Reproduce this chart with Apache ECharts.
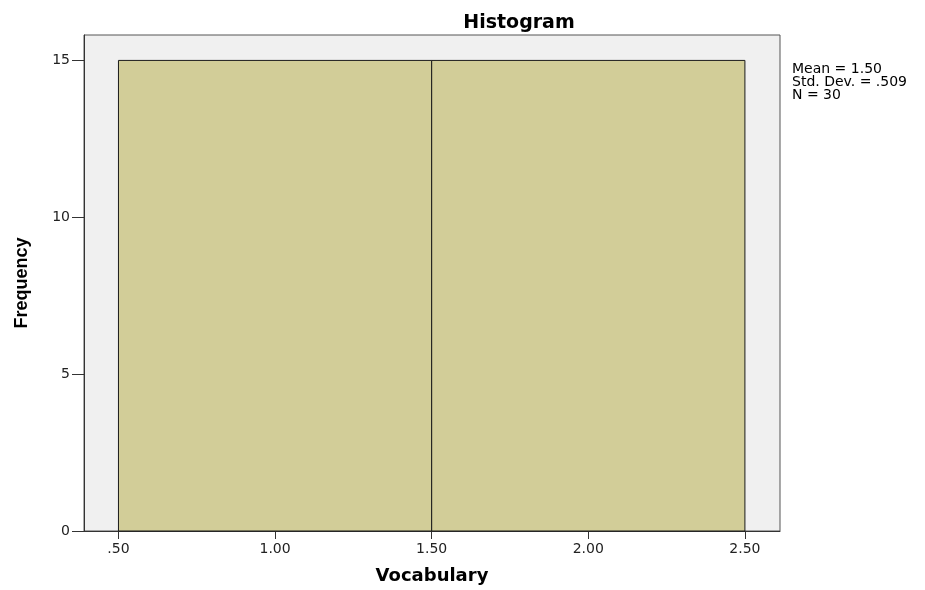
<!DOCTYPE html>
<html>
<head>
<meta charset="utf-8">
<script src="https://cdn.jsdelivr.net/npm/echarts@6/dist/echarts.min.js"></script>
<style>html,body{margin:0;padding:0;background:#fff;}#c{width:925px;height:590px;}</style>
</head>
<body>
<div id="c"></div>
<script>
var binStarts = [0.5, 1.5];
var binEnds = [1.5, 2.5];
var frequencies = [15, 15];
var xTicks = [0.5, 1.0, 1.5, 2.0, 2.5];
var yTicks = [0, 5, 10, 15];
var statsLines = ['Mean = 1.50', 'Std. Dev. = .509', 'N = 30'];

var data = frequencies.map(function (f, i) { return [binStarts[i], binEnds[i], f]; });
function fmtX(v) { var s = Number(v).toFixed(2); return s.charAt(0) === '0' ? s.slice(1) : s; }
var sans = 'DejaVu Sans, Verdana, sans-serif';

var chart = echarts.init(document.getElementById('c'));
chart.setOption({
  animation: false,
  backgroundColor: '#ffffff',
  textStyle: { fontFamily: sans },
  title: {
    text: 'Histogram', left: 514, top: 9, textAlign: 'center',
    textStyle: { fontSize: 19, fontWeight: 'bold', color: '#000', fontFamily: sans }
  },
  graphic: [{
    type: 'text', left: 792, top: 62,
    style: { text: statsLines.join('\n'), fontSize: 14, lineHeight: 13, fill: '#000', fontFamily: sans }
  }],
  grid: {
    left: 84, top: 35, right: 145, bottom: 57, show: true,
    backgroundColor: '#f0f0f0', borderColor: '#555', borderWidth: 1
  },
  xAxis: {
    type: 'value', min: 0.39, max: 2.612,
    name: 'Vocabulary', nameLocation: 'middle', nameGap: 36,
    nameTextStyle: { fontSize: 18, fontWeight: 'bold', color: '#000', fontFamily: sans },
    axisLine: { show: true, lineStyle: { color: '#333', width: 1 } },
    axisTick: { show: true, length: 8, lineStyle: { color: '#333' }, customValues: xTicks },
    axisLabel: { customValues: xTicks, formatter: fmtX, fontSize: 14, color: '#222', margin: 11 },
    splitLine: { show: false }
  },
  yAxis: {
    type: 'value', min: 0, max: 15.81,
    name: 'Frequency', nameLocation: 'middle', nameGap: 53,
    nameTextStyle: { fontSize: 18, fontWeight: 'bold', color: '#000', fontFamily: 'Liberation Sans, Arial, sans-serif' },
    axisLine: { show: true, lineStyle: { color: '#333', width: 1 } },
    axisTick: { show: true, length: 12, lineStyle: { color: '#333' }, customValues: yTicks },
    axisLabel: { customValues: yTicks, fontSize: 14, color: '#222', margin: 14 },
    splitLine: { show: false }
  },
  series: [{
    type: 'custom',
    data: data,
    encode: { x: [0, 1], y: 2 },
    renderItem: function (params, api) {
      var p0 = api.coord([api.value(0), api.value(2)]);
      var p1 = api.coord([api.value(1), 0]);
      return {
        type: 'rect',
        shape: { x: p0[0], y: p0[1], width: p1[0] - p0[0], height: p1[1] - p0[1] },
        style: { fill: '#d2cd98', stroke: '#1a1a1a', lineWidth: 1 }
      };
    }
  }]
});
</script>
</body>
</html>
